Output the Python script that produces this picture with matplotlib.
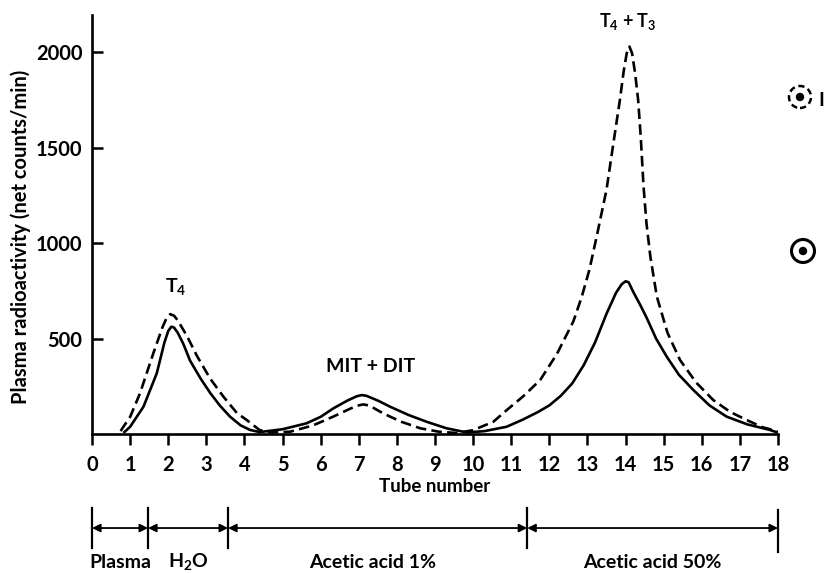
import numpy as np
import matplotlib
matplotlib.use('Agg')
import matplotlib.pyplot as plt
from matplotlib.patches import Ellipse

plt.rcParams['font.family'] = ['Lato', 'DejaVu Sans']
plt.rcParams['font.weight'] = 'bold'

# Solid curve (tube number, counts/min)
solid_x = [0.85, 1.0, 1.35, 1.7, 1.9, 2.0, 2.08, 2.15, 2.25, 2.4, 2.57, 2.85, 3.1, 3.35,
           3.62, 3.9, 4.15, 4.4, 5.0, 5.63, 6.0, 6.33, 6.7, 6.95, 7.08, 7.2, 7.5, 7.82,
           8.3, 8.78, 9.3, 9.83, 10.3, 10.88, 11.3, 11.7, 12.0, 12.3, 12.6, 12.9, 13.2,
           13.5, 13.75, 13.9, 14.0, 14.08, 14.2, 14.4, 14.55, 14.8, 15.08, 15.4, 15.78,
           16.2, 16.65, 17.2, 17.79, 17.95]
solid_y = [10, 38, 143, 319, 480, 540, 562, 558, 530, 470, 385, 290, 215, 150,
           91, 45, 21, 10, 25, 56, 90, 134, 175, 198, 204, 200, 175, 143,
           100, 64, 30, 8, 15, 38, 75, 115, 150, 200, 265, 360, 480,
           630, 740, 785, 800, 795, 745, 670, 610, 500, 405, 310, 230,
           150, 91, 50, 21, 10]

# Dashed curve
dash_x = [0.75, 0.82, 1.0, 1.26, 1.61, 1.85, 1.95, 2.05, 2.15, 2.25, 2.5, 2.75, 3.1, 3.45,
          3.8, 4.06, 4.4, 4.7, 5.2, 5.8, 6.33, 6.8, 7.0, 7.12, 7.25, 7.4, 7.64, 8.1,
          8.61, 9.1, 9.57, 10.0, 10.53, 10.88, 11.3, 11.76, 12.2, 12.63, 12.85, 13.05,
          13.24, 13.5, 13.7, 13.85, 13.95, 14.03, 14.1, 14.17, 14.25, 14.33, 14.4, 14.47,
          14.55, 14.65, 14.82, 15.1, 15.43, 15.85, 16.3, 16.75, 17.18, 17.6, 17.87, 18.0]
dash_y = [15, 37, 90, 214, 424, 560, 605, 628, 620, 595, 510, 410, 290, 195,
          110, 73, 20, 8, 12, 45, 91, 135, 150, 155, 150, 135, 108, 65,
          30, 12, 5, 20, 64, 125, 195, 283, 420, 590, 719, 860,
          1033, 1280, 1550, 1749, 1900, 1995, 2030, 1995, 1890, 1749, 1550, 1300,
          1100, 930, 720, 530, 387, 270, 178, 115, 73, 35, 21, 10]

x_ticks = list(range(0, 19))
y_ticks = [500, 1000, 1500, 2000]

# eluent bands below the axis
band_edges = [0, 1.47, 3.57, 11.42, 18]
band_labels = ['Plasma', 'H$_\\mathregular{2}$O', 'Acetic acid 1%', 'Acetic acid 50%']
band_label_x = [0.75, 2.52, 7.35, 14.7]

peak_labels = ['T$_\\mathregular{4}$', 'MIT + DIT', 'T$_\\mathregular{4}$ + T$_\\mathregular{3}$']
peak_pos = [(2.2, 770), (7.3, 356), (14.06, 2160)]
peak_size = [14, 14, 13]

fig = plt.figure(figsize=(8.24, 5.73), dpi=100)
ax = fig.add_axes([0.1117, 0.2426, 0.8325, 0.7312])

ax.plot(solid_x, solid_y, color='black', lw=1.9, solid_joinstyle='round')
ax.plot(dash_x, dash_y, color='black', lw=1.9, linestyle=(0, (4, 2)),
        dash_joinstyle='round')

ax.set_xlim(0, 18)
ax.set_ylim(0, 2195)
ax.set_xticks(x_ticks)
ax.set_yticks(y_ticks)
for s in ['top', 'right']:
    ax.spines[s].set_visible(False)
for s in ['left', 'bottom']:
    ax.spines[s].set_linewidth(1.9)
ax.tick_params(axis='x', direction='out', length=8, width=1.8, labelsize=14.5, pad=7)
ax.tick_params(axis='y', direction='in', length=8, width=1.8, labelsize=14.5, pad=7)

ax.set_xlabel('Tube number', fontsize=13.5, fontweight='bold')
ax.xaxis.set_label_coords(0.5, -0.105)
ax.set_ylabel('Plasma radioactivity (net counts/min)', fontsize=14.5, fontweight='bold')
ax.yaxis.set_label_coords(-0.089, 0.47)

for lab, (px, py), fs in zip(peak_labels, peak_pos, peak_size):
    ax.text(px, py, lab, ha='center', va='center', fontsize=fs, fontweight='bold')

# band brackets
ax2 = fig.add_axes([0.1117, 0.0, 0.8325, 0.136])
ax2.set_xlim(0, 18)
ax2.set_ylim(0, 1)
ax2.axis('off')
for i, e in enumerate(band_edges):
    last = i == len(band_edges) - 1
    top = 0.81 if last else 0.83
    bot = 0.27 if last else 0.32
    ax2.plot([e, e], [bot, top], color='black', lw=1.6, clip_on=False)
for a, b in zip(band_edges[:-1], band_edges[1:]):
    ax2.annotate('', xy=(b, 0.577), xytext=(a, 0.577),
                 arrowprops=dict(arrowstyle='<|-|>', color='black', lw=1.3,
                                 mutation_scale=12, shrinkA=0, shrinkB=0))
for lab, lx in zip(band_labels, band_label_x):
    ax2.text(lx, 0.141, lab, ha='center', va='center', fontsize=14, fontweight='bold')

# symbols on the right edge
W, H = 824, 573
fig.add_artist(Ellipse((800 / W, 1 - 97 / H), 22 / W, 22 / H, transform=fig.transFigure,
                       fill=False, lw=1.8, linestyle=(0, (2.5, 1.5)), color='black'))
fig.add_artist(Ellipse((800 / W, 1 - 97 / H), 7 / W, 7 / H, transform=fig.transFigure,
                       color='black'))
fig.add_artist(Ellipse((803 / W, 1 - 251 / H), 23 / W, 23 / H, transform=fig.transFigure,
                       fill=False, lw=2.2, color='black'))
fig.add_artist(Ellipse((803 / W, 1 - 251 / H), 7 / W, 7 / H, transform=fig.transFigure,
                       color='black'))
fig.text(818 / W, 1 - 100 / H, 'I', fontsize=14, fontweight='bold', va='center', ha='left')

fig.savefig('out.png', dpi=100)
